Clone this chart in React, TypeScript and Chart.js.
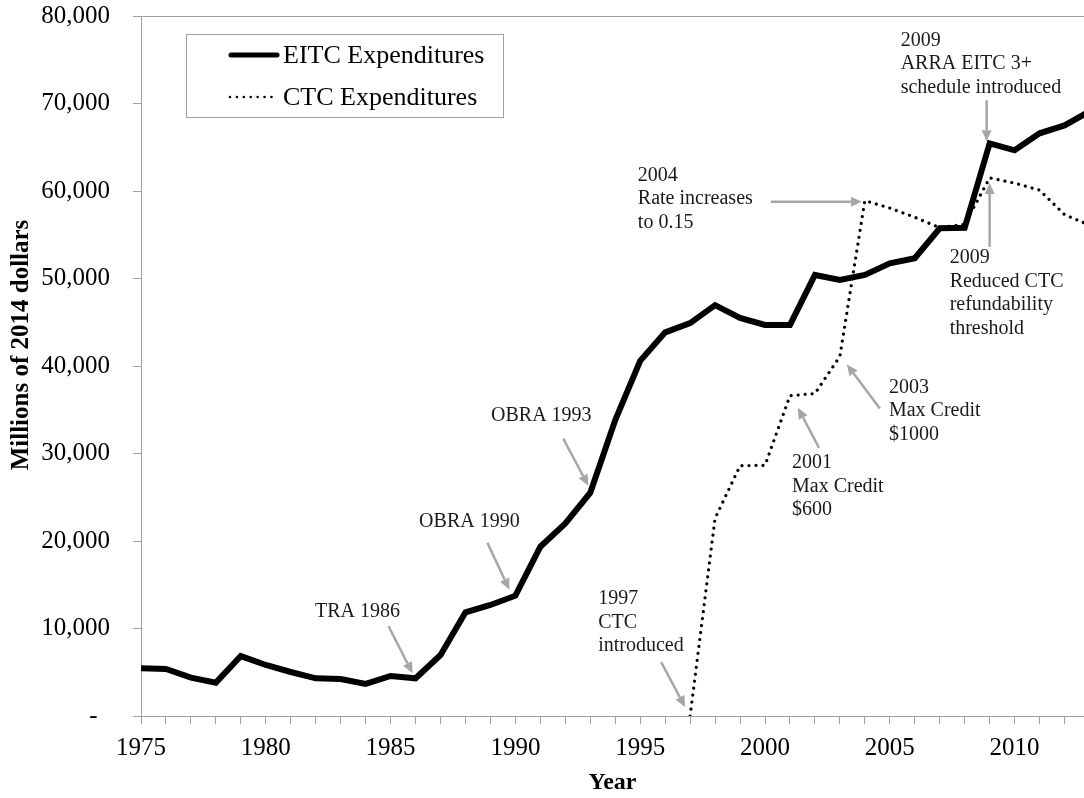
import { useEffect, useRef } from "react";
import { Chart, registerables } from "chart.js";

Chart.register(...registerables);

const years = [
  1975, 1976, 1977, 1978, 1979, 1980, 1981, 1982, 1983, 1984, 1985, 1986, 1987,
  1988, 1989, 1990, 1991, 1992, 1993, 1994, 1995, 1996, 1997, 1998, 1999, 2000,
  2001, 2002, 2003, 2004, 2005, 2006, 2007, 2008, 2009, 2010, 2011, 2012, 2013,
];
const eitcValues = [
  5450, 5370, 4380, 3810, 6850, 5830, 5030, 4310, 4230, 3660, 4570, 4310, 6970,
  11850, 12690, 13750, 19350, 22020, 25520, 33830, 40600, 43850, 44900, 46950,
  45500, 44690, 44690, 50400, 49830, 50400, 51740, 52310, 55740, 55800, 65450,
  64650, 66590, 67500, 69100,
];
const ctcYears = [
  1997, 1998, 1999, 2000, 2001, 2002, 2003, 2004, 2005, 2006, 2007, 2008, 2009,
  2010, 2011, 2012, 2013,
];
const ctcValues = [
  0, 22600, 28600, 28650, 36600, 36850, 41100, 58900, 58050, 57000, 55800, 56200,
  61500, 60900, 60100, 57300, 56100,
];
const xTickLabelYears = [1975, 1980, 1985, 1990, 1995, 2000, 2005, 2010];
const yTickValues = [0, 10000, 20000, 30000, 40000, 50000, 60000, 70000, 80000];
const seriesLabels = ["EITC Expenditures", "CTC Expenditures"];
const xAxisTitle = "Year";
const yAxisTitle = "Millions of 2014 dollars";

type Note = {
  series: "eitc" | "ctc";
  year: number;
  lines: string[];
  align: "left" | "center";
  text: [number, number];
  tail: [number, number];
  tip: [number, number];
};

const notes: Note[] = [
  { series: "eitc", year: 1986, lines: ["TRA 1986"], align: "center", text: [-58, -67], tail: [-27, -52], tip: [-3, -5] },
  { series: "eitc", year: 1990, lines: ["OBRA 1990"], align: "center", text: [-46, -74], tail: [-28, -53], tip: [-6, -6] },
  { series: "eitc", year: 1993, lines: ["OBRA 1993"], align: "center", text: [-49, -77], tail: [-27, -54], tip: [-2, -7] },
  { series: "ctc", year: 1997, lines: ["1997", "CTC", "introduced"], align: "left", text: [-92, -117], tail: [-29, -54], tip: [-5, -9] },
  { series: "ctc", year: 2001, lines: ["2001", "Max Credit", "$600"], align: "left", text: [2, 67], tail: [29, 52], tip: [8, 12] },
  { series: "ctc", year: 2003, lines: ["2003", "Max Credit", "$1000"], align: "left", text: [49, 31], tail: [40, 52], tip: [7, 8] },
  { series: "ctc", year: 2004, lines: ["2004", "Rate increases", "to 0.15"], align: "left", text: [-227, -25], tail: [-94, 1], tip: [-3, 1] },
  { series: "eitc", year: 2009, lines: ["2009", "ARRA EITC 3+", "schedule introduced"], align: "left", text: [-89, -103], tail: [-3, -43], tip: [-3, -2] },
  { series: "ctc", year: 2009, lines: ["2009", "Reduced CTC", "refundability", "threshold"], align: "left", text: [-40, 80], tail: [0, 69], tip: [0, 5] },
];

const SERIF = '"Liberation Serif", "Times New Roman", Times, serif';
const AXIS_GRAY = "#a0a0a0";
const ARROW_GRAY = "#a6a6a6";
const TEXT_COLOR = "#1a1a1a";

function valueFor(series: "eitc" | "ctc", year: number): number {
  if (series === "eitc") return eitcValues[years.indexOf(year)];
  return ctcValues[ctcYears.indexOf(year)];
}

const overlayPlugin = {
  id: "overlay",
  afterDatasetsDraw(chart: any) {
    const ctx = chart.ctx as CanvasRenderingContext2D;
    const xs = chart.scales.x;
    const ys = chart.scales.y;
    const area = chart.chartArea;
    ctx.save();

    // annotations
    for (const n of notes) {
      const ax = xs.getPixelForValue(n.year);
      const ay = ys.getPixelForValue(valueFor(n.series, n.year));
      const tx = ax + n.tip[0];
      const ty = ay + n.tip[1];
      const sx = ax + n.tail[0];
      const sy = ay + n.tail[1];
      const ang = Math.atan2(ty - sy, tx - sx);
      const headLen = 11;
      const headHalf = 5;
      const bx = tx - headLen * Math.cos(ang);
      const by = ty - headLen * Math.sin(ang);
      ctx.strokeStyle = ARROW_GRAY;
      ctx.fillStyle = ARROW_GRAY;
      ctx.lineWidth = 2.5;
      ctx.lineCap = "butt";
      ctx.beginPath();
      ctx.moveTo(sx, sy);
      ctx.lineTo(bx, by);
      ctx.stroke();
      ctx.beginPath();
      ctx.moveTo(tx, ty);
      ctx.lineTo(bx + headHalf * Math.sin(ang), by - headHalf * Math.cos(ang));
      ctx.lineTo(bx - headHalf * Math.sin(ang), by + headHalf * Math.cos(ang));
      ctx.closePath();
      ctx.fill();

      ctx.fillStyle = TEXT_COLOR;
      ctx.font = `20px ${SERIF}`;
      ctx.textAlign = n.align;
      ctx.textBaseline = "middle";
      n.lines.forEach((line, i) => {
        ctx.fillText(line, ax + n.text[0], ay + n.text[1] + i * 23.6);
      });
    }

    // legend
    const lx = area.left + 45;
    const ly = area.top + 18;
    ctx.fillStyle = "#ffffff";
    ctx.fillRect(lx, ly, 317, 83);
    ctx.strokeStyle = AXIS_GRAY;
    ctx.lineWidth = 1;
    ctx.strokeRect(lx + 0.5, ly + 0.5, 317, 83);

    ctx.strokeStyle = "#000";
    ctx.lineCap = "round";
    ctx.lineWidth = 5;
    ctx.setLineDash([]);
    ctx.beginPath();
    ctx.moveTo(lx + 45, ly + 21);
    ctx.lineTo(lx + 91, ly + 21);
    ctx.stroke();

    ctx.lineWidth = 2.6;
    ctx.setLineDash([0.01, 6.9]);
    ctx.beginPath();
    ctx.moveTo(lx + 44, ly + 63);
    ctx.lineTo(lx + 92, ly + 63);
    ctx.stroke();
    ctx.setLineDash([]);

    ctx.fillStyle = "#000";
    ctx.font = `26px ${SERIF}`;
    ctx.textAlign = "left";
    ctx.textBaseline = "middle";
    ctx.fillText(seriesLabels[0], lx + 97, ly + 22);
    ctx.fillText(seriesLabels[1], lx + 97, ly + 64);

    // axis titles
    ctx.font = `bold 24px ${SERIF}`;
    ctx.textAlign = "center";
    ctx.textBaseline = "middle";
    ctx.fillText(xAxisTitle, (area.left + area.right) / 2, area.bottom + 67);
    ctx.save();
    ctx.font = `bold 25px ${SERIF}`;
    ctx.translate(area.left - 119, (area.top + area.bottom) / 2 - 21);
    ctx.rotate(-Math.PI / 2);
    ctx.fillText(yAxisTitle, 0, 0);
    ctx.restore();

    ctx.restore();
  },
};

export default function App() {
  const canvasRef = useRef<HTMLCanvasElement | null>(null);

  useEffect(() => {
    const canvas = canvasRef.current;
    if (!canvas) return;
    const chart = new Chart(canvas, {
      type: "line",
      data: {
        datasets: [
          {
            label: seriesLabels[0],
            data: years.map((y, i) => ({ x: y, y: eitcValues[i] })),
            borderColor: "#000",
            backgroundColor: "#000",
            borderWidth: 6,
            pointRadius: 0,
            tension: 0,
            order: 0,
          },
          {
            label: seriesLabels[1],
            data: ctcYears.map((y, i) => ({ x: y, y: ctcValues[i] })),
            borderColor: "#000",
            backgroundColor: "#000",
            borderWidth: 3.2,
            borderDash: [0.01, 7],
            borderCapStyle: "round",
            pointRadius: 0,
            tension: 0,
            order: 1,
          },
        ],
      },
      options: {
        responsive: false,
        animation: false,
        events: [],
        layout: { padding: { top: 16, left: 0, right: 0, bottom: 0 } },
        plugins: {
          legend: { display: false },
          tooltip: { enabled: false },
          title: { display: false },
        },
        scales: {
          x: {
            type: "linear",
            min: 1975,
            max: 2012.78,
            afterBuildTicks: (scale: any) => {
              const t: any[] = [];
              for (let v = 1975; v <= 2012; v++) t.push({ value: v });
              scale.ticks = t;
            },
            afterFit: (scale: any) => {
              scale.height = 82;
              scale.paddingLeft = 0;
              scale.paddingRight = 0;
            },
            ticks: {
              autoSkip: false,
              maxRotation: 0,
              padding: 9,
              color: "#000",
              font: { family: SERIF, size: 25 },
              callback: (v: any) => (xTickLabelYears.includes(Number(v)) ? String(v) : ""),
            },
            grid: {
              drawOnChartArea: false,
              tickColor: AXIS_GRAY,
              tickLength: 8,
              tickWidth: 1,
            },
            border: { color: AXIS_GRAY, width: 1 },
          },
          y: {
            type: "linear",
            min: 0,
            max: 80000,
            afterBuildTicks: (scale: any) => {
              scale.ticks = yTickValues.map((v) => ({ value: v }));
            },
            afterFit: (scale: any) => {
              scale.width = 141;
              scale.paddingTop = 0;
              scale.paddingBottom = 0;
            },
            ticks: {
              padding: 23,
              color: "#000",
              font: { family: SERIF, size: 25 },
              callback: (v: any) =>
                Number(v) === 0 ? "-  " : Number(v).toLocaleString("en-US"),
            },
            grid: {
              color: (c: any) =>
                c.tick && c.tick.value === 80000 ? AXIS_GRAY : "rgba(0,0,0,0)",
              tickColor: AXIS_GRAY,
              tickLength: 8,
              lineWidth: 1,
            },
            border: { color: AXIS_GRAY, width: 1 },
          },
        },
      },
      plugins: [overlayPlugin],
    } as any);
    return () => chart.destroy();
  }, []);

  return (
    <div style={{ position: "fixed", left: 0, top: 0, width: 1084, height: 798, background: "#fff" }}>
      <canvas ref={canvasRef} width={1084} height={798} style={{ display: "block" }} />
    </div>
  );
}
